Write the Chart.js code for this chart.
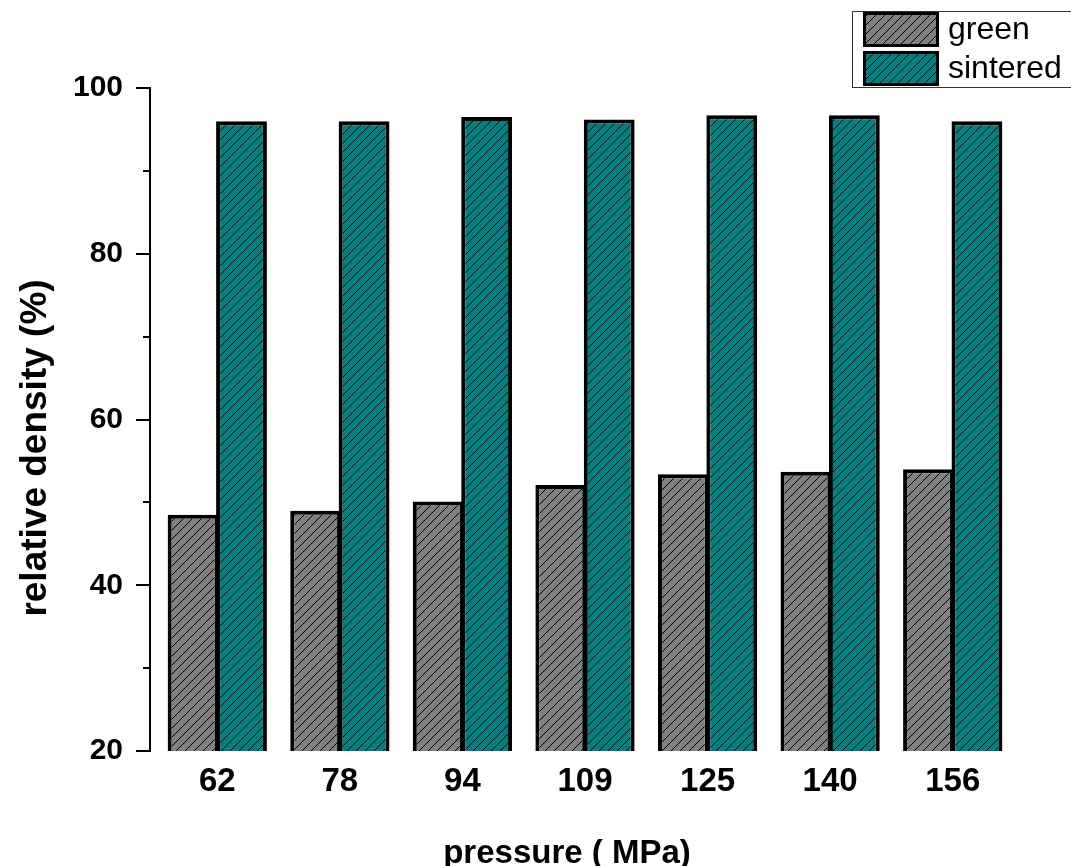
<!DOCTYPE html>
<html>
<head>
<meta charset="utf-8">
<title>Relative density vs pressure</title>
<script src="https://cdn.jsdelivr.net/npm/chart.js@4.4.0/dist/chart.umd.min.js"></script>
<style>
    html, body { margin: 0; padding: 0; background: #fff; }
    #densityChart { display: block; }
</style>
</head>
<body>
<canvas id="densityChart" width="1071" height="866"></canvas>
<script>
// Compaction pressure (MPa) and relative density (%) of each sample
const pressures = ['62', '78', '94', '109', '125', '140', '156'];
const greenDensity = [48.5, 49.0, 50.1, 52.1, 53.4, 53.7, 54.0];
const sinteredDensity = [96.0, 96.0, 96.5, 96.2, 96.7, 96.7, 96.0];
const seriesNames = ['green', 'sintered'];
const yTickValues = [20, 30, 40, 50, 60, 70, 80, 90, 100];

const FONT = '"Liberation Sans", Arial, sans-serif';

const canvas = document.getElementById('densityChart');
const ctx = canvas.getContext('2d');

// Diagonal "/" hatching over a flat fill
function hatch(color) {
    const s = 9;
    const tile = document.createElement('canvas');
    tile.width = s;
    tile.height = s;
    const g = tile.getContext('2d');
    g.fillStyle = color;
    g.fillRect(0, 0, s, s);
    g.strokeStyle = '#000';
    g.lineWidth = 1;
    g.beginPath();
    g.moveTo(0, s); g.lineTo(s, 0);
    g.moveTo(-2, 2); g.lineTo(2, -2);
    g.moveTo(s - 2, s + 2); g.lineTo(s + 2, s - 2);
    g.stroke();
    return ctx.createPattern(tile, 'repeat');
}

const greenFill = hatch('#808080');
const sinteredFill = hatch('#008080');

// Axis line, major/minor ticks, axis titles and the boxed legend
const decorations = {
    id: 'decorations',
    afterDraw(chart) {
        const c = chart.ctx;
        const y = chart.scales.y;
        const axisX = 150;

        c.save();
        c.strokeStyle = '#000';
        c.lineWidth = 2;
        c.beginPath();
        c.moveTo(axisX, y.getPixelForValue(100));
        c.lineTo(axisX, y.getPixelForValue(20));
        yTickValues.forEach(v => {
            const py = Math.round(y.getPixelForValue(v));
            const len = v % 20 === 0 ? 14 : 7;
            c.moveTo(axisX + 1, py);
            c.lineTo(axisX - len, py);
        });
        c.stroke();

        // axis titles
        c.fillStyle = '#000';
        c.font = 'bold 37px ' + FONT;
        c.textAlign = 'center';
        c.textBaseline = 'alphabetic';
        c.save();
        c.translate(46, 448);
        c.rotate(-Math.PI / 2);
        c.fillText('relative density (%)', 0, 0);
        c.restore();

        c.font = 'bold 33px ' + FONT;
        c.fillText('pressure ( MPa)', 567, 863);

        // legend box
        c.lineWidth = 1;
        c.strokeStyle = '#333';
        c.strokeRect(852.5, 11.5, 230, 76);
        const fills = [greenFill, sinteredFill];
        const rows = [12, 51];
        c.font = '32px ' + FONT;
        c.textAlign = 'left';
        c.textBaseline = 'middle';
        rows.forEach((top, i) => {
            c.fillStyle = fills[i];
            c.fillRect(863, top, 76, 35);
            c.lineWidth = 3;
            c.strokeStyle = '#000';
            c.strokeRect(864.5, top + 1.5, 73, 32);
            c.fillStyle = '#000';
            c.fillText(seriesNames[i], 948, top + 18);
        });
        c.restore();
    }
};

const chart = new Chart(ctx, {
    type: 'bar',
    data: {
        labels: pressures,
        datasets: [
            {
                label: seriesNames[0],
                data: greenDensity,
                backgroundColor: greenFill,
                borderColor: '#000',
                borderWidth: 4
            },
            {
                label: seriesNames[1],
                data: sinteredDensity,
                backgroundColor: sinteredFill,
                borderColor: '#000',
                borderWidth: 4
            }
        ]
    },
    options: {
        responsive: false,
        animation: false,
        devicePixelRatio: 1,
        layout: { padding: { top: 88, right: 57, bottom: 0, left: 0 } },
        datasets: {
            bar: { barPercentage: 1.05, categoryPercentage: 0.79, inflateAmount: 0 }
        },
        plugins: {
            legend: { display: false },
            tooltip: { enabled: false }
        },
        scales: {
            x: {
                grid: { display: false },
                border: { display: false },
                ticks: {
                    color: '#000',
                    padding: 3,
                    font: { family: FONT, size: 33, weight: 'bold' }
                },
                afterFit(scale) { scale.height = 115; }
            },
            y: {
                min: 20,
                max: 100,
                grid: { display: false },
                border: { display: false },
                ticks: {
                    stepSize: 20,
                    color: '#000',
                    padding: 25,
                    font: { family: FONT, size: 30, weight: 'bold' }
                },
                afterFit(scale) { scale.width = 156; }
            }
        }
    },
    plugins: [decorations]
});
</script>
</body>
</html>
